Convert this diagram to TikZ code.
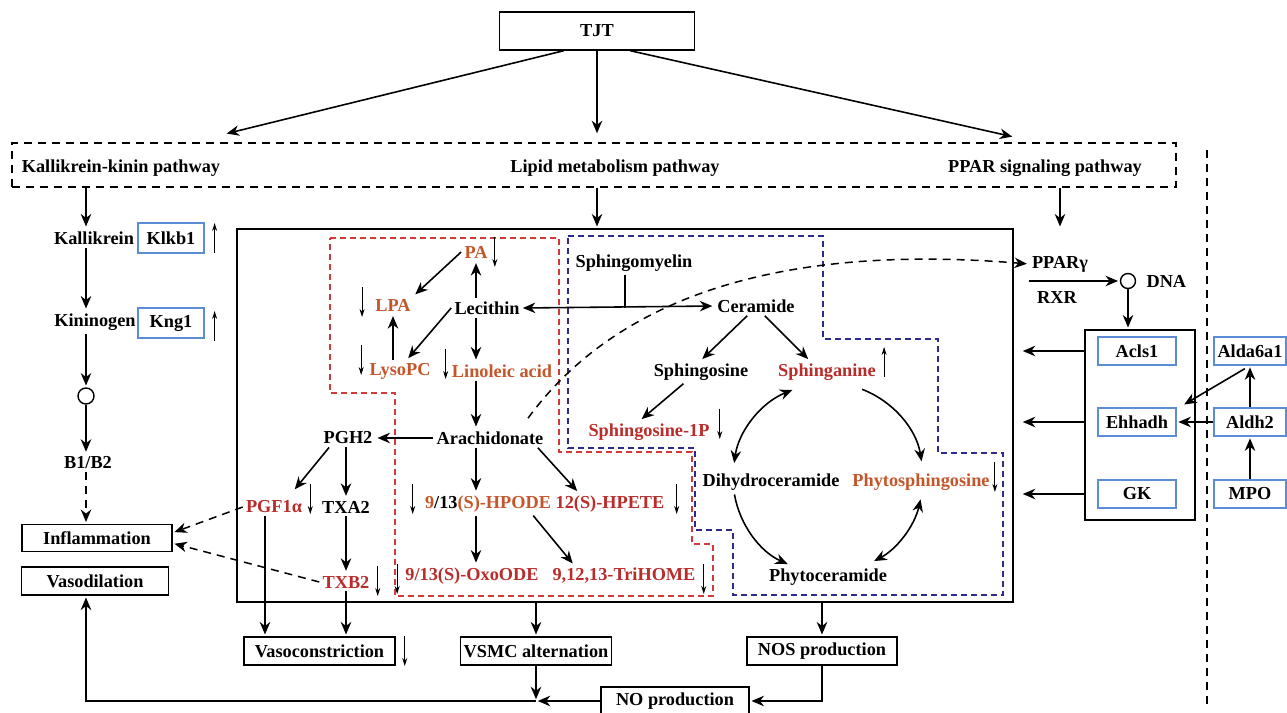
\documentclass[tikz,border=0pt]{standalone}
\usepackage{fontspec}
\setmainfont{Liberation Serif}
\usepackage{xcolor}
\usetikzlibrary{positioning,arrows.meta,calc}
\definecolor{metor}{HTML}{C4562B}
\definecolor{metrd}{HTML}{BA2C2A}
\definecolor{lipred}{HTML}{D23A3A}
\definecolor{sphblue}{HTML}{2B2B8C}
\definecolor{genebl}{HTML}{5A8DD6}
\tikzset{
  lbl/.style   ={inner sep=0.6mm, font=\fontsize{10.4}{12}\selectfont\bfseries},
  orng/.style  ={lbl, text=metor},
  redm/.style  ={lbl, text=metrd},
  outbox/.style={lbl, draw, line width=0.85pt, minimum height=5.6mm},
  gene/.style  ={lbl, draw=genebl, line width=0.7pt, minimum width=15.6mm,
                 minimum height=5.6mm},
  arr/.style   ={draw, line width=0.9pt,
                 -{Stealth[length=2.5mm,width=2.1mm,inset=0.8mm]}, shorten >=1pt},
  biarr/.style ={arr, {Stealth[length=2.5mm,width=2.1mm,inset=0.8mm]}-{Stealth[length=2.5mm,width=2.1mm,inset=0.8mm]}},
  % small up/down marks beside a metabolite or gene
  reg/.style   ={draw, line width=0.5pt, -{Stealth[length=1.6mm,width=1mm]}},
  dsh/.style   ={dash pattern=on 1.6mm off 1.2mm, line width=0.85pt},
  zone/.style  ={dash pattern=on 1.2mm off 0.8mm, line width=0.75pt},
}
\newcommand{\cycarc}[3]{%
  \draw[#1] ($(cyc)+(#2:95)$) arc[start angle=#2, end angle=#3, radius=95];}
\def\downlist{PA.east/4/0, LPA.west/-10/-3, lysopc.west/-5/-11, linol.west/-3/-7,
  s1p.east/7/-8, phyto.east/2/-5, pgf.east/5/-8, txb2.east/5/-1, hpete.east/9/-5,
  hpode.west/-9/-5, oxoode.west/-5/3, trihome.east/5/3, vasocon.east/9/0}
\def\uplist{klkb1.east/10/0, kng1.east/10/3, sphinganine.east/5/-10}

\begin{document}
\begin{tikzpicture}[x=0.2mm, y=-0.2mm]
  \useasboundingbox (0,0) rectangle (1287,713);
  % top and pathways
  \node[outbox, minimum width=39mm, minimum height=7.6mm] (TJT) at (597,31) {TJT};
  \node[lbl, draw, dsh, minimum width=232.8mm, minimum height=8.8mm] (pathways) at (594,165) {};
  \node[lbl] (kkp) at (121,168) {Kallikrein-kinin pathway};
  \node[lbl] (lmp) at (615,168) {Lipid metabolism pathway};
  \node[lbl] (pps) at (1045,168) {PPAR signaling pathway};
  \coordinate (tL) at (225,134);
  \coordinate (tM) at (597,135);
  \coordinate (tR) at (1014,137);
  \draw[arr] ([xshift=-19pt]TJT.south) -- (tL);
  \draw[arr] (TJT.south) -- (tM);
  \draw[arr] ([xshift=19pt]TJT.south) -- (tR);
  \draw[dsh] (1207,150) -- (1207,705);

  % kallikrein-kinin column
  \node[lbl] (kal) at (94,238) {Kallikrein};
  \node[gene, minimum width=13.2mm, minimum height=6mm] (klkb1) at (171,238) {Klkb1};
  \node[lbl] (kin) at (95,322) {Kininogen};
  \node[gene, minimum width=13.2mm, minimum height=6mm] (kng1) at (171,323) {Kng1};
  \node[circle, draw, line width=0.8pt, minimum size=3.2mm, inner sep=0pt] (kcirc) at (86,396) {};
  \node[lbl] (b1b2) at (88,463) {B1/B2};
  \node[outbox, minimum width=30mm, minimum height=5.4mm] (inflam) at (97,538) {Inflammation};
  \node[outbox, minimum width=29.4mm] (vasodil) at (95,581) {Vasodilation};
  \draw[arr] (pathways.south -| kcirc) -- (kal.north -| kcirc);
  \draw[arr] (kal.south -| kcirc) -- (kin.north -| kcirc);
  \draw[arr] (kin.south -| kcirc) -- (kcirc.north);
  \draw[arr] (kcirc.south) -- (b1b2.north -| kcirc);
  \draw[arr, dsh] (b1b2.south -| kcirc) -- (inflam.north -| kcirc);

  % lipid metabolism box
  \node[draw, line width=0.85pt, minimum width=155.2mm, minimum height=74.6mm, inner sep=0pt]
    (lipidbox) at (625,415.5) {};
  \draw[arr] (pathways.south -| TJT) -- (lipidbox.north -| TJT);
  \draw[zone, lipred] (330,238) -- (559,238) -- (559,452) -- (692,452) -- (692,544)
    -- (713,544) -- (713,596) -- (395,596) -- (395,393) -- (330,393) -- cycle;
  \draw[zone, sphblue] (568,236) -- (823,236) -- (823,339) -- (938,339) -- (938,453)
    -- (1003,453) -- (1003,595) -- (733,595) -- (733,530) -- (695,530) -- (695,448)
    -- (568,448) -- cycle;

  \node[orng] (PA) at (476,252) {PA};
  \node[orng] (LPA) at (393,305) {LPA};
  \node[lbl] (lecithin) at (487,308) {Lecithin};
  \node[orng] (lysopc) at (400,371) {LysoPC};
  \node[orng] (linol) at (502,371) {Linoleic acid};
  \node[lbl] (arach) at (490,438) {Arachidonate};
  \node[lbl] (pgh2) at (348,438) {PGH2};
  \node[redm] (pgf) at (274,507) {PGF1α};
  \node[lbl] (txa2) at (346,507) {TXA2};
  \node[redm] (txb2) at (346,582) {TXB2};
  \node[lbl] (hpode) at (488,504) {{\color{metor}9}/13{\color{metor}(S)-HPODE}};
  \node[redm] (hpete) at (610,504) {12(S)-HPETE};
  \node[redm] (oxoode) at (472,576) {9/13(S)-OxoODE};
  \node[redm] (trihome) at (624,576) {9,12,13-TriHOME};
  \node[lbl] (sm) at (634,263) {Sphingomyelin};
  \node[lbl] (ceramide) at (756,306) {Ceramide};
  \node[lbl] (sphingosine) at (701,372) {Sphingosine};
  \node[redm] (sphinganine) at (827,372) {Sphinganine};
  \node[redm] (s1p) at (649,432) {Sphingosine-1P};
  \node[lbl] (dihydro) at (771,482) {Dihydroceramide};
  \node[orng] (phyto) at (921,482) {Phytosphingosine};
  \node[lbl] (phytocer) at (828,577) {Phytoceramide};
  \coordinate (cyc) at (828,478);

  \draw[arr] (lecithin.north -| PA) -- (PA.south);
  \draw[arr] (PA.west) -- (LPA.north east);
  \draw[arr] (lecithin.west) -- ([xshift=4pt]lysopc.north);
  \draw[arr] (LPA.south |- lysopc.north) -- (LPA.south);
  \draw[arr] (lecithin.south -| PA) -- (linol.north -| PA);
  \draw[arr] (linol.south -| PA) -- (arach.north -| PA);
  \draw[arr] (arach.west) -- (pgh2.east);
  \draw[arr, shorten >=6pt] ([xshift=5pt]pgh2.south west) -- ([xshift=8pt]pgf.north);
  \draw[arr] (pgh2.south -| txa2) -- (txa2.north);
  \draw[arr] (txa2.south) -- (txb2.north);
  \draw[arr] (arach.south -| PA) -- (hpode.north -| PA);
  \draw[arr] ([xshift=-5pt]arach.south east) -- ([xshift=-18pt]hpete.north);
  \draw[arr] (hpode.south -| PA) -- (oxoode.north -| PA);
  \draw[arr] ([xshift=-12pt]hpode.south east) -- ([xshift=14pt]trihome.north west);
  \draw[biarr] (lecithin.east) -- (ceramide.west);
  \draw[line width=0.9pt] ($(sm.south)+(-9,0)$) -- ($(sm.south |- lecithin.east)+(-9,0)$);
  \draw[arr] ([xshift=-5pt]ceramide.south) -- (sphingosine.north);
  \draw[arr] ([xshift=5pt]ceramide.south) -- ([xshift=-10pt]sphinganine.north);
  \draw[arr] ([xshift=-10pt]sphingosine.south) -- ([xshift=-5pt]s1p.north);
  \cycarc{biarr}{248}{188}
  \cycarc{arr}{291}{351}
  \cycarc{arr}{170}{114}
  \cycarc{biarr}{13}{62}

  % outputs of lipid box
  \node[outbox, minimum width=30.2mm] (vasocon) at (319.5,651) {Vasoconstriction};
  \node[outbox, minimum width=29.6mm] (vsmc) at (536,651) {VSMC alternation};
  \node[outbox, minimum width=30mm] (nos) at (822,651) {NOS production};
  \node[outbox, minimum width=29.6mm] (noprod) at (675,701) {NO production};
  \draw[arr, dsh] (pgf.west) -- ([yshift=3pt]inflam.east);
  \draw[arr, dsh] (txb2.west) -- ([yshift=-3pt]inflam.east);
  \draw[arr] ($(pgf.south)+(-9,0)$) -- ($(pgf.south |- vasocon.north)+(-9,0)$);
  \draw[arr] (txb2.south) -- (txb2.south |- vasocon.north);
  \draw[arr] (lipidbox.south -| vsmc) -- (vsmc.north);
  \draw[arr] (lipidbox.south -| nos) -- (nos.north);
  \draw[arr] (nos.south) |- (noprod.east);
  \draw[arr] (noprod.west) -- (vsmc.south |- noprod.west);
  \draw[arr] (vsmc.south) -- (vsmc.south |- noprod.west);
  \draw[arr] (vsmc.south |- noprod.west) -| (kcirc |- vasodil.south);

  % PPAR side
  \node[lbl] (pparg) at (1060,264) {PPARγ};
  \node[lbl] (rxr) at (1057,298) {RXR};
  \node[circle, draw, line width=0.8pt, minimum size=3mm, inner sep=0pt] (dnacirc) at (1128,281) {};
  \node[lbl, right=1.4mm of dnacirc] (dna) {DNA};
  \draw[arr, dsh] ($(arach.north)+(38,-10)$) .. controls (600,320) and (740,240) .. (pparg.west);
  \draw[arr] (pathways.south -| pparg) -- (lipidbox.north -| pparg);
  \draw[arr] (pparg.south west |- dnacirc) -- (dnacirc.west);
  \node[draw, line width=0.85pt, minimum width=22mm, minimum height=38mm] (genebox) at (1140,425) {};
  \draw[arr] (dnacirc.south) -- (genebox.north -| dnacirc);
  \node[gene] (acls) at (1137,351) {Acls1};
  \node[gene] (ehhadh) at (1137,422) {Ehhadh};
  \node[gene] (gk) at (1137,494) {GK};
  \node[gene, minimum width=14.4mm] (alda) at (1250,351) {Alda6a1};
  \node[gene, minimum width=14.4mm] (aldh2) at (1250,422) {Aldh2};
  \node[gene, minimum width=14.4mm] (mpo) at (1250,494) {MPO};
  \foreach \g in {acls,ehhadh,gk}
    \draw[arr, shorten >=1.8mm] (genebox.west |- \g) -- (lipidbox.east |- \g);
  \draw[arr] (mpo.north) -- (aldh2.south);
  \draw[arr] (aldh2.north) -- (alda.south);
  \draw[arr] (aldh2.west) -- (ehhadh.east);
  \draw[arr, shorten <=1.2mm] (alda.south) -- ([shift={(6,-2)}]ehhadh.north east);

  % regulation marks
  \foreach \a/\dx/\dy in \downlist
    \draw[reg] ([shift={(\dx,\dy)}]\a) ++(0,-15) -- ++(0,30);
  \foreach \a/\dx/\dy in \uplist
    \draw[reg] ([shift={(\dx,\dy)}]\a) ++(0,15) -- ++(0,-30);
\end{tikzpicture}
\end{document}
